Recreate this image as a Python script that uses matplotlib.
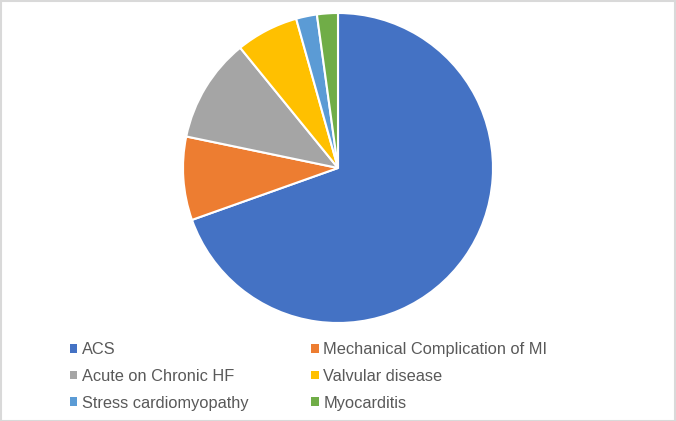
import matplotlib.pyplot as plt
from matplotlib.patches import Patch, Rectangle

labels = ['ACS', 'Mechanical Complication of MI', 'Acute on Chronic HF',
          'Valvular disease', 'Stress cardiomyopathy', 'Myocarditis']
counts = [32, 4, 5, 3, 1, 1]
colors = ['#4472C4', '#ED7D31', '#A5A5A5', '#FFC000', '#5B9BD5', '#70AD47']

plt.rcParams['font.family'] = ['Liberation Sans', 'DejaVu Sans']

W, H = 676, 421
fig = plt.figure(figsize=(W / 100, H / 100), dpi=100)

# light chart-area border
fig.patches.append(Rectangle((0.5 / W, 0.5 / H), 1 - 1.5 / W, 1 - 1.5 / H,
                             transform=fig.transFigure, fill=False,
                             edgecolor='#D9D9D9', linewidth=1.5))

# pie: center (338, 168), radius 155 in pixels
cx, cy, r = 338, 168, 155
ax = fig.add_axes([(cx - r) / W, (H - cy - r) / H, 2 * r / W, 2 * r / H])
ax.pie(counts, colors=colors, startangle=90, counterclock=False,
       wedgeprops=dict(edgecolor='white', linewidth=1.5))
ax.set_xlim(-1, 1)
ax.set_ylim(-1, 1)
ax.set_aspect('equal')

# legend is row-major in the reference, matplotlib fills column-major
order = [0, 2, 4, 1, 3, 5]
handles = [Patch(facecolor=colors[i], edgecolor='none') for i in order]
fig.legend(handles, [labels[i] for i in order], ncol=2, loc='upper left',
           bbox_to_anchor=(70 / W, 1 - 342 / H), frameon=False,
           fontsize=11.8, labelcolor='#595959', handlelength=0.45,
           handleheight=0.45, handletextpad=0.3, columnspacing=3.8,
           labelspacing=0.72, borderpad=0, borderaxespad=0)

fig.savefig('out.png', dpi=100)
